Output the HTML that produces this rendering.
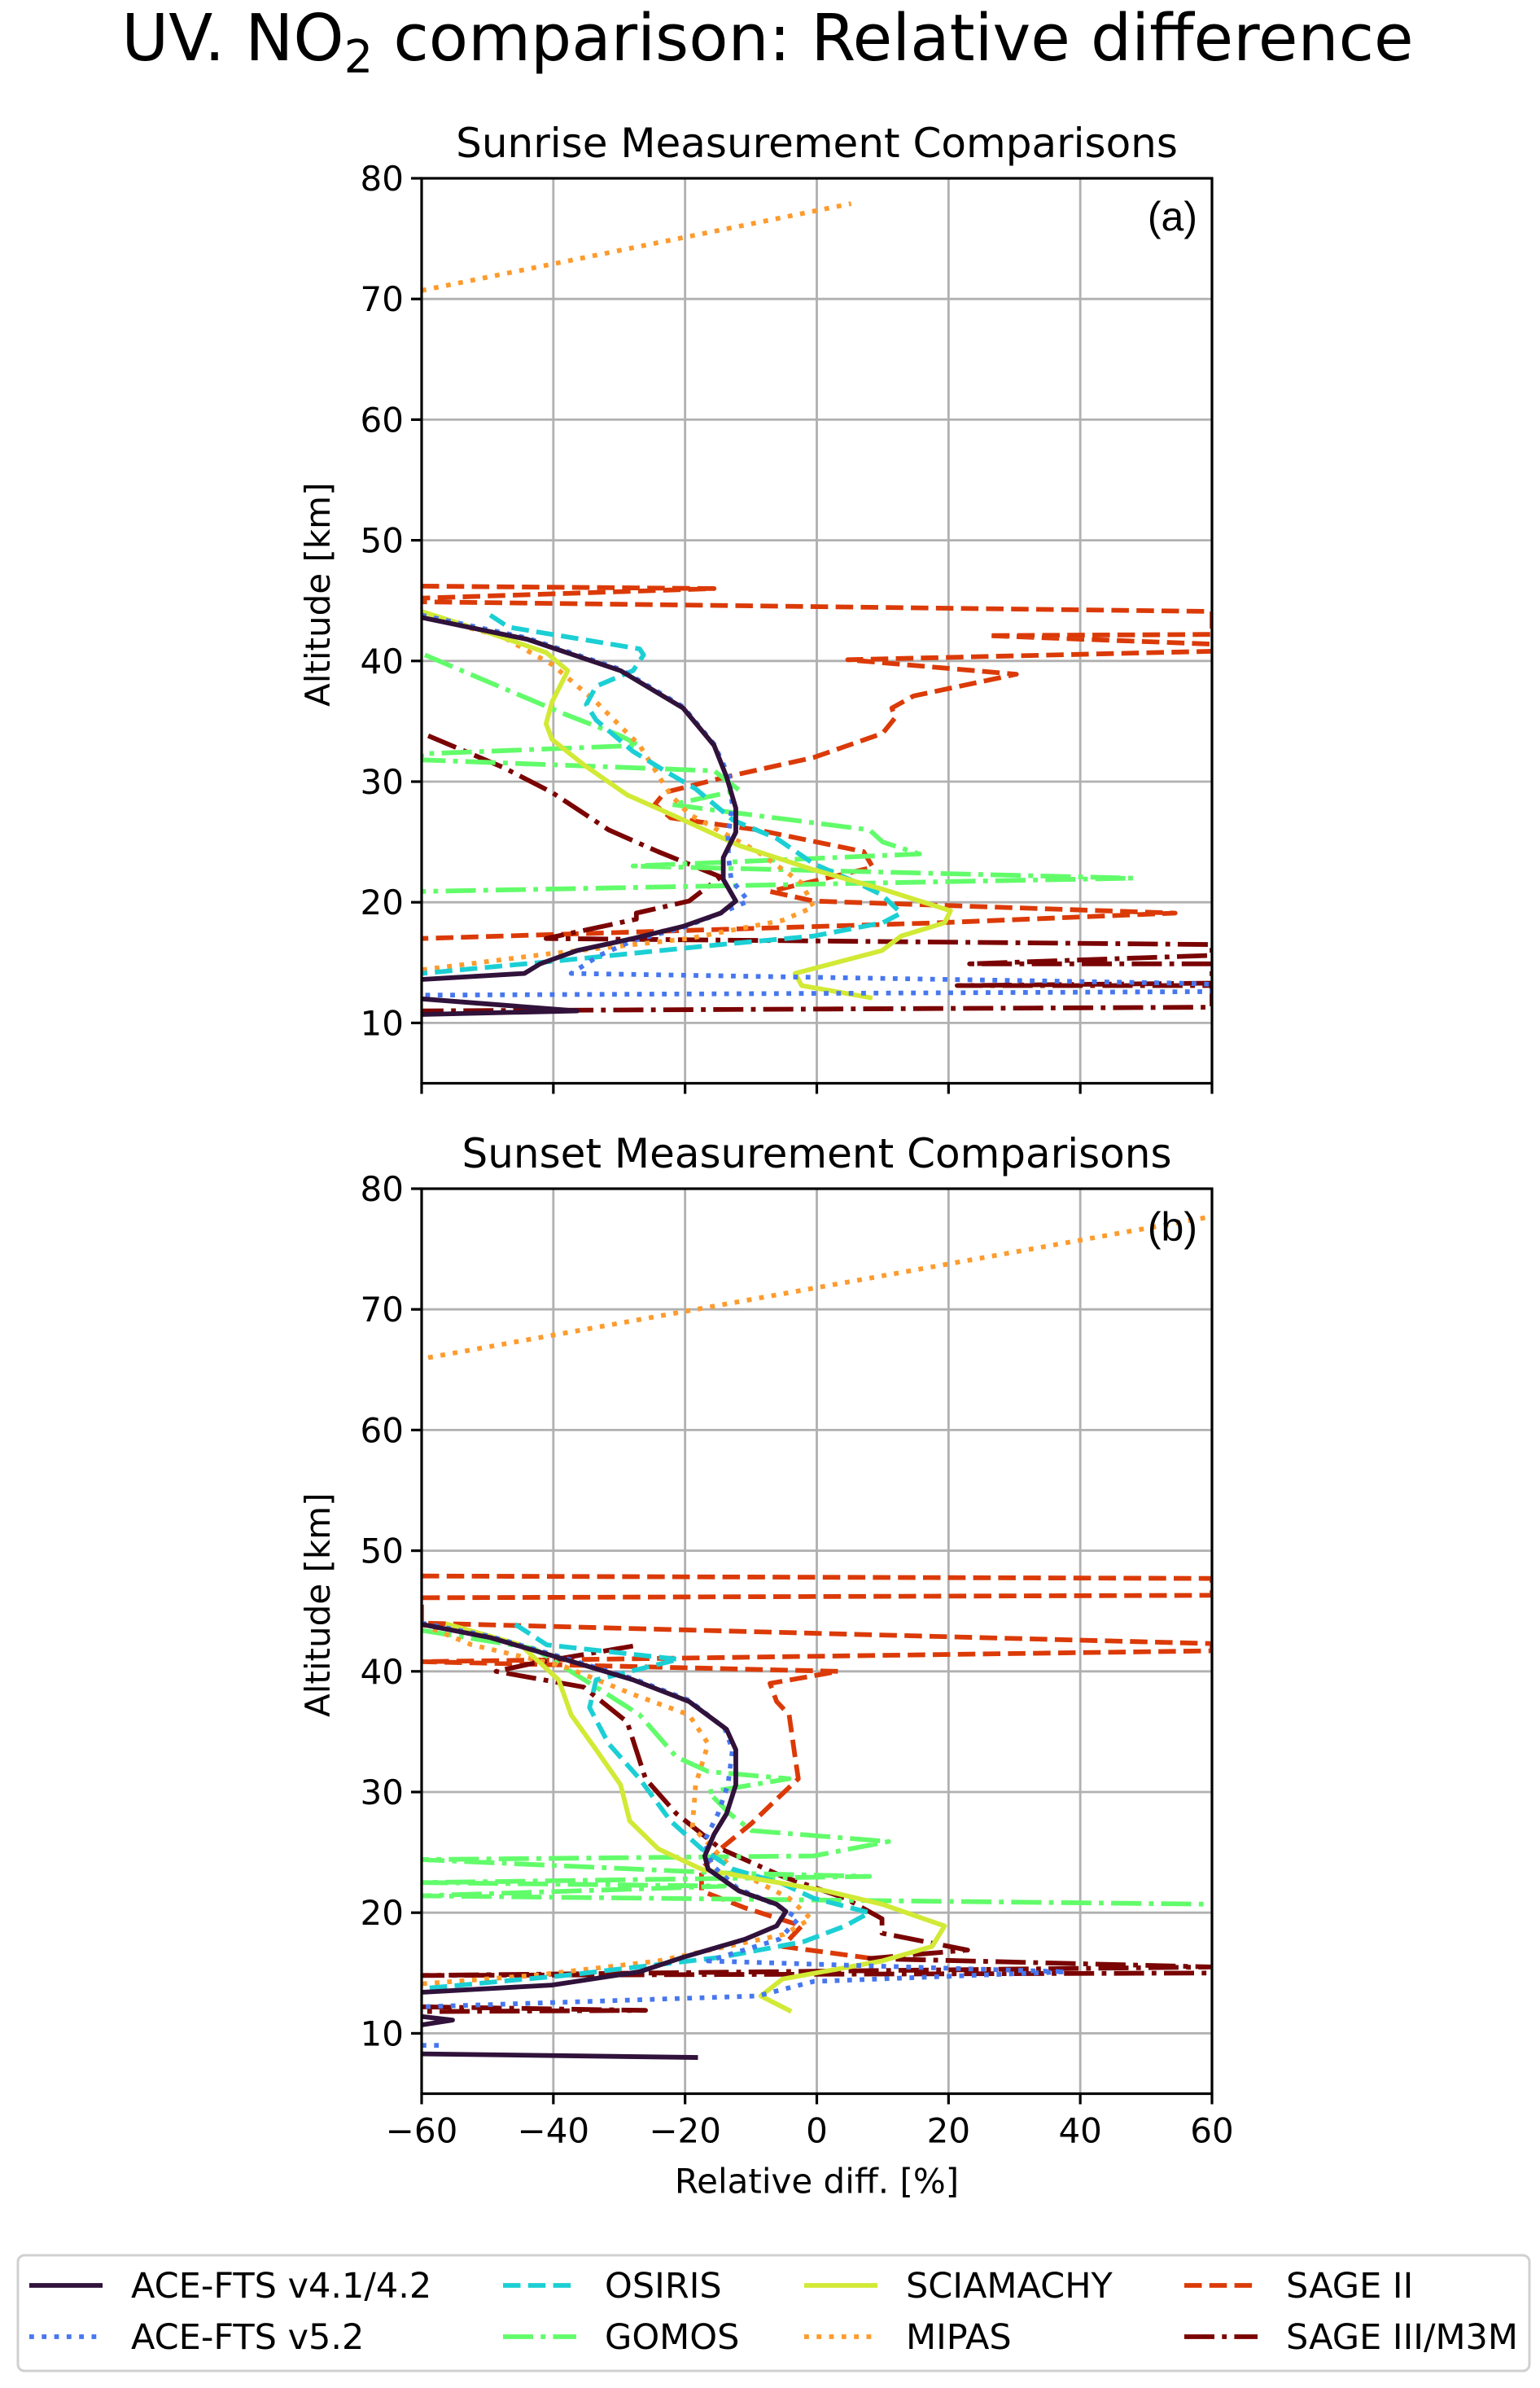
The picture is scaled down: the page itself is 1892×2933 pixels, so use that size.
<!DOCTYPE html>
<html><head><meta charset="utf-8"><style>
html,body{margin:0;padding:0;background:#fff;}
svg{display:block;font-family:"DejaVu Sans","Liberation Sans",sans-serif;}
</style></head><body>
<svg id="fig" width="1892" height="2933" viewBox="0 0 1892 2933" xmlns="http://www.w3.org/2000/svg">
<rect width="1892" height="2933" fill="#fff"/>
<text x="943" y="74" font-size="79" text-anchor="middle">UV. NO<tspan font-size="56" dy="15">2</tspan><tspan dy="-15"> comparison: Relative difference</tspan></text>
<g id="panelA"></g>
<g id="panelB"></g>
<g id="legend"></g>
</svg>
<script>
// ---------------- Sunrise data ([relative diff %, altitude km]) ----------------
const riseAce41 = [[-60,43.6],[-44,41.8],[-29.8,39.2],[-20.3,36.1],[-15.6,33],[-13.7,30.4],[-12.3,27.8],[-12.3,25.8],[-14.2,23.7],[-14.2,21.9],[-12.3,20.1],[-14.6,19.1],[-20.3,18],[-27.9,17],[-36.4,16],[-42,14.9],[-44.4,14.1],[-60,13.6],null,[-60,12.0],[-36.4,11.0],[-60,10.7]];
const riseAce52 = [[-60,43.8],[-44,41.9],[-29.8,39.3],[-20.3,36.2],[-15.6,33.1],[-13.4,30.5],[-12.8,28],[-13.5,25.8],[-13.4,23.7],[-13,21.9],[-10.4,20.1],[-14.6,19.1],[-20.3,17.9],[-28,16.8],[-33,15.6],[-37.3,14.1],[55,13.3],[60,13.2],[60,12.6],[-60,12.3]];
const riseOsiris = [[-49.6,43.8],[-46.8,42.8],[-26.9,41],[-26.3,40.5],[-27.9,39.2],[-33.5,37.9],[-35,36.4],[-33.5,35.1],[-27.9,32.5],[-23.1,30.9],[-18.4,29.4],[-12.7,26.8],[-6.1,25.3],[-0.5,23.2],[6.2,21.6],[9.9,20.6],[12.8,19.1],[10,18.3],[-0.5,17.2],[-14.6,16.5],[-38.3,15.2],[-60,14.1]];
const riseGomos = [[-59.5,40.5],[-49.6,38.2],[-38.3,35.6],[-29.8,33.8],[-27,33],[-60,32.3],[-60,31.8],[-15.6,30.9],[-11.8,29.3],[-22,28.1],[-15,27.6],[8,26],[10,25],[15.6,24],[-27.9,23],[48,22],[-60,20.9]];
const riseScia = [[-60,44.1],[-49.6,42.3],[-41.1,40.7],[-37.8,39.2],[-40.2,36.6],[-41.1,34.8],[-40.2,33.5],[-35.4,31.4],[-28.8,28.9],[-22.2,27.3],[-11.8,24.7],[-0.5,22.7],[9.9,21.1],[20.3,19.3],[19.4,18.3],[12.8,17.2],[9.9,16],[-3.3,14.1],[-2.3,13.1],[8.1,12.1]];
const riseMipas = [[-60,70.7],[5.2,77.9],null,[-60,43.8],[-47.7,42],[-40.2,39.7],[-33.5,36.6],[-26.9,33],[-22.2,28.9],[-19.4,27.3],[-9,24.2],[-2.3,21.6],[-0.5,19.6],[-5.2,18.5],[-19.4,17],[-41.1,15.7],[-60,14.4]];
const riseSage2 = [[-60,46.2],[-15.6,46],[-60,45.2],[-60,44.9],[60,44.1],[60,42.2],[26,42.1],[60,41.4],[60,40.8],[4.7,40.1],[30.3,38.9],[14.7,37.1],[11.4,36.1],[11.9,35.3],[10,34],[-0.5,32],[-13.7,30.4],[-23.1,29.1],[-24.6,28.1],[-22.2,27],[-9,26],[7.1,24.2],[8.5,22.9],[-7.1,20.9],[-0.5,20.1],[54.4,19.1],[18.4,18.3],[-60,17]];
const riseSage3 = [[-59,33.8],[-47.7,31.2],[-40.2,29.1],[-31.6,26],[-24.1,24.2],[-14.6,22.1],[-19.4,20.1],[-27.4,19.1],[-27.4,18.6],[-41.1,17],[60,16.5],[60,15.6],[23.2,14.9],[60,14.9],[60,13.3],[21.3,13.1],[60,13.1],[60,11.3],[-60,11.0]];
// ---------------- Sunset data ----------------
const setAce41 = [[-60,43.9],[-49.6,42.8],[-38.3,41],[-27.9,39.3],[-19.4,37.5],[-13.7,35.2],[-12.3,33.5],[-12.3,30.6],[-13.7,28.2],[-15.6,26.5],[-17,24.7],[-16.5,23.6],[-11.8,21.8],[-6.1,20.7],[-4.7,20.1],[-6.1,18.9],[-10.9,17.8],[-20.3,16.3],[-26.9,15.1],[-40.2,14],[-60,13.4],null,[-60,11.4],[-55.3,11.1],[-60,10.7],null,[-60,8.3],[-18.4,8.0]];
const setAce52 = [[-60,44],[-49.6,42.9],[-38.3,41.1],[-27.9,39.4],[-19.4,37.6],[-14,35.3],[-12.8,33.5],[-13.5,30.6],[-15,28.2],[-17,26],[-16,24],[-12,22],[-6,20.6],[-2.8,19.5],[-5.7,17.8],[-16.5,16],[37.8,15.1],[-0.5,14.3],[-9,13.1],[-60,12.2],null,[-60,9.0],[-57,9.0]];
const setOsiris = [[-45.8,43.9],[-41,42.2],[-21,41],[-33.5,39.3],[-34.5,37],[-31.6,34],[-26.9,31.1],[-22.2,27.6],[-17.5,25.3],[-12.7,23.6],[-5.2,22.4],[-0.5,21.2],[8,20],[4.3,18.9],[-2,17.6],[-14.6,16.3],[-38.3,14.8],[-60,13.7]];
const setGomos = [[-60,43.4],[-43,41.9],[-33.5,38.7],[-26.9,36.4],[-21.3,32.9],[-16.5,31.7],[-4.2,31.1],[-16.5,30],[-13.2,28.2],[-9.9,26.8],[10.9,25.9],[-0.5,24.7],[-60,24.4],[-14.6,23.3],[8,23],[-60,22.5],[-14,22.2],[-60,21.4],[60,20.7]];
const setScia = [[-56,43.9],[-45,42.2],[-39.2,39.3],[-37.3,36.4],[-33.5,33.5],[-29.8,30.6],[-28.4,27.6],[-24.1,25.3],[-17.5,23.6],[1.4,21.8],[9.9,20.7],[19.4,18.9],[17.5,17.2],[9.9,16],[-5.2,14.5],[-8.5,13.1],[-4.2,11.9]];
const setMipas = [[-59,66],[60,77.7],null,[-60,43.9],[-52.4,42.2],[-38.3,40.4],[-27.9,38.1],[-19.4,36.4],[-16.5,34],[-18.4,30.6],[-18.9,27.1],[-12.7,23.6],[-4.2,21.2],[-0.9,19.5],[-5,18.2],[-24.1,16],[-43,14.8],[-60,14.1]];
const setSage2 = [[-60,47.9],[60,47.7],[60,46.3],[-60,46.1],[-60,44],[60,42.3],[60,41.7],[-60,40.8],[3.3,40],[-7.1,39],[-6.1,37.5],[-4.2,36.4],[-3.3,32.9],[-2.8,31.1],[-6.1,29.4],[-9.9,27.4],[-14.6,25.3],[-17.5,23.6],[-17.5,21.8],[-10.9,20.4],[-2.3,18.9],[-5.2,17.2],[9.9,16.1]];
const setSage3 = [[-27.9,42.1],[-42.8,40.7],[-48.7,40],[-35.4,38.7],[-28.8,35.8],[-26,31.1],[-21.3,28.2],[-14.6,25.3],[-5.2,23],[4.3,21.2],[9.9,19.5],[9.9,18.3],[22.9,16.9],[8,16.2],[60,15.5],[-60,14.8],[60,15.0],null,[-60,12.2],[-26,11.9],[-60,11.8]];
// ---------------- ticks ----------------
const xTicks = [-60,-40,-20,0,20,40,60];
const xTickLabels = ["\u221260","\u221240","\u221220","0","20","40","60"];
const yTicks = [10,20,30,40,50,60,70,80];
const seriesNames = ["ACE-FTS v4.1/4.2","ACE-FTS v5.2","OSIRIS","GOMOS","SCIAMACHY","MIPAS","SAGE II","SAGE III/M3M"];

const NS="http://www.w3.org/2000/svg";
const LW=5.8;
const styles = {
  ace41:{c:"#30123b",d:null},
  ace52:{c:"#4777ef",d:[5.8,9.5]},
  osiris:{c:"#1bcfd4",d:[21.5,9.3]},
  gomos:{c:"#62fc6b",d:[37,9.3,5.8,9.3]},
  scia:{c:"#d2e935",d:null},
  mipas:{c:"#fe9b2d",d:[5.8,9.5]},
  sage2:{c:"#db3a07",d:[21.5,9.3]},
  sage3:{c:"#7a0403",d:[37,9.3,5.8,9.3]}
};
function mk(tag,attrs,parent){const e=document.createElementNS(NS,tag);for(const k in attrs)e.setAttribute(k,attrs[k]);parent.appendChild(e);return e;}

function drawPanel(g,top,title,label,data,withXLabels){
  const L=518,R=1489,yTop=top,per=148.2;
  const xs=v=>L+(v+60)/120*(R-L);
  const ys=v=>yTop+(80-v)/10*per;
  const yBot=ys(5);
  const t=mk('text',{x:(L+R)/2,y:top-26,'font-size':50,'text-anchor':'middle'},g);t.textContent=title;
  
  
  xTicks.forEach(v=>{const l=mk('line',{x1:xs(v),x2:xs(v),y1:yTop,y2:yBot,stroke:'#b0b0b0','stroke-width':2.8},g);
    
    });
  yTicks.forEach(v=>{const l=mk('line',{x1:L,x2:R,y1:ys(v),y2:ys(v),stroke:'#b0b0b0','stroke-width':2.8},g);
    
    });
  const clip='clip'+top;
  const cp=mk('clipPath',{id:clip},g);mk('rect',{x:L,y:yTop,width:R-L,height:yBot-yTop},cp);
  const sg=mk('g',{'clip-path':'url(#'+clip+')'},g);
  data.forEach(([key,arr])=>{
    let d='',start=true;
    arr.forEach(p=>{if(p===null){start=true;return;}d+=(start?'M':'L')+xs(p[0]).toFixed(1)+' '+ys(p[1]).toFixed(1)+' ';start=false;});
    const s=styles[key];
    const path=mk('path',{d:d,fill:'none',stroke:s.c,'stroke-width':LW,'stroke-linejoin':'round','stroke-linecap':s.d?'butt':'square'},sg);
    if(s.d)path.setAttribute('stroke-dasharray',s.d.join(','));
    
    
  });
  const fr=mk('rect',{x:L,y:yTop,width:R-L,height:yBot-yTop,fill:'none',stroke:'#000','stroke-width':3.2},g);
  
  
  yTicks.forEach(v=>{mk('line',{x1:L-13,x2:L,y1:ys(v),y2:ys(v),stroke:'#000','stroke-width':3.2},g);
    const tx=mk('text',{x:L-22,y:ys(v)+15,'font-size':42,'text-anchor':'end'},g);tx.textContent=v;
    
    });
  xTicks.forEach((v,i)=>{mk('line',{x1:xs(v),x2:xs(v),y1:yBot,y2:yBot+13,stroke:'#000','stroke-width':3.2},g);
    if(withXLabels){const tx=mk('text',{x:xs(v),y:yBot+60,'font-size':42,'text-anchor':'middle'},g);tx.textContent=xTickLabels[i];
      
      }});
  const yl=mk('text',{x:0,y:0,'font-size':42,'text-anchor':'middle',transform:'translate(405,'+ys(45.5)+') rotate(-90)'},g);yl.textContent='Altitude [km]';
  
  
  const pl=mk('text',{x:R-18,y:yTop+64,'font-size':50,'text-anchor':'end','font-family':'Liberation Sans, sans-serif'},g);pl.textContent=label;
  
  
  if(withXLabels){const xl=mk('text',{x:(L+R)/2,y:yBot+122,'font-size':42,'text-anchor':'middle'},g);xl.textContent='Relative diff. [%]';
    
    }
}
drawPanel(document.getElementById('panelA'),219,'Sunrise Measurement Comparisons','(a)',
 [['sage2',riseSage2],['sage3',riseSage3],['gomos',riseGomos],['mipas',riseMipas],['osiris',riseOsiris],['scia',riseScia],['ace52',riseAce52],['ace41',riseAce41]],false);
drawPanel(document.getElementById('panelB'),1460,'Sunset Measurement Comparisons','(b)',
 [['sage2',setSage2],['sage3',setSage3],['gomos',setGomos],['mipas',setMipas],['osiris',setOsiris],['scia',setScia],['ace52',setAce52],['ace41',setAce41]],true);

const lg=document.getElementById('legend');
const box=mk('rect',{x:22,y:2770,width:1857,height:142,rx:8,fill:'#fff',stroke:'#d0d0d0','stroke-width':3},lg);


const keys=['ace41','ace52','osiris','gomos','scia','mipas','sage2','sage3'];
const colX=[36,618,988,1455];
keys.forEach((k,i)=>{
  const col=Math.floor(i/2),row=i%2;const x=colX[col],y=row?2870:2807;
  const s=styles[k];
  const eg=mk('g',{},lg);
  
  
  const ln=mk('line',{x1:x,x2:x+90,y1:y,y2:y,stroke:s.c,'stroke-width':LW},eg);
  if(s.d)ln.setAttribute('stroke-dasharray',s.d.join(','));
  const tx=mk('text',{x:x+125,y:y+15,'font-size':43},eg);tx.textContent=seriesNames[i];
});
</script>
</body></html>
